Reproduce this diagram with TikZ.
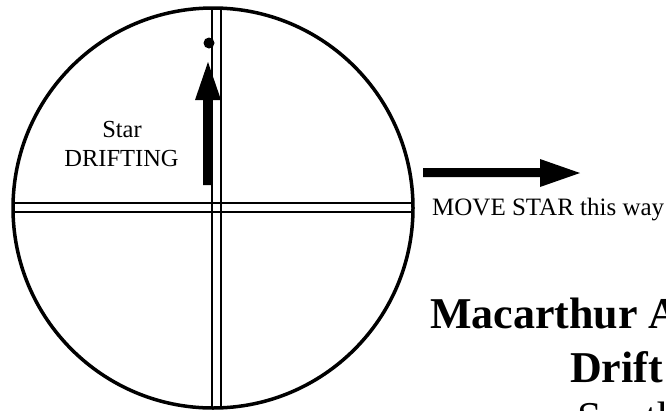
\documentclass[tikz,border=0pt]{standalone}
\usepackage{fontspec}
\setmainfont{Liberation Serif}
\begin{document}
\begin{tikzpicture}[x=1pt,y=-1pt,
  ring/.style={line width=3.5pt},
  hair/.style={line width=2.6pt},
  blackfill/.style={fill=black,draw=none},
  lbl/.style={inner sep=0pt,font=\fontsize{24.5}{29}\selectfont},
  title/.style={inner sep=0pt,anchor=base west,font=\fontsize{44}{53}\selectfont\bfseries},
]
\useasboundingbox (0,0) rectangle (666,410);
\clip (0,0) rectangle (666,410);
% eyepiece field
\coordinate (c) at (213,208);
\draw[ring] (c) circle[radius=200];
% double crosshair
\coordinate (v1t) at (212,8);   \coordinate (v1b) at (212,408);
\coordinate (v2t) at (221,8);   \coordinate (v2b) at (221,408);
\coordinate (h1l) at (13,203);  \coordinate (h1r) at (413,203);
\coordinate (h2l) at (13,212);  \coordinate (h2r) at (413,212);
\draw[hair] (v1t) -- (v1b);
\draw[hair] (v2t) -- (v2b);
\draw[hair] (h1l) -- (h1r);
\draw[hair] (h2l) -- (h2r);
% star and drift arrow
\node[blackfill,circle,minimum size=11pt,inner sep=0pt] (star) at (209,43) {};
\fill (203,185) -- (203,100) -- (195,100) -- (208,62) -- (221,100) -- (212,100) -- (212,185) -- cycle;
\node[lbl,anchor=base] (s1) at (122,137) {Star};
\node[lbl,anchor=base] (s2) at (121.5,166) {DRIFTING};
% move arrow
\fill (423,168) -- (540,168) -- (540,159) -- (580,173) -- (540,187) -- (540,177) -- (423,177) -- cycle;
\node[lbl,anchor=base west,font=\fontsize{25}{29}\selectfont] (mv) at (432,215) {MOVE STAR this way};
% title
\node[title] (t1) at (430,328) {Macarthur A};
\node[title] (t2) at (570,382) {Drift};
\node[title,font=\fontsize{44}{53}\selectfont] (t3) at (577,432) {Southern};
\end{tikzpicture}
\end{document}
